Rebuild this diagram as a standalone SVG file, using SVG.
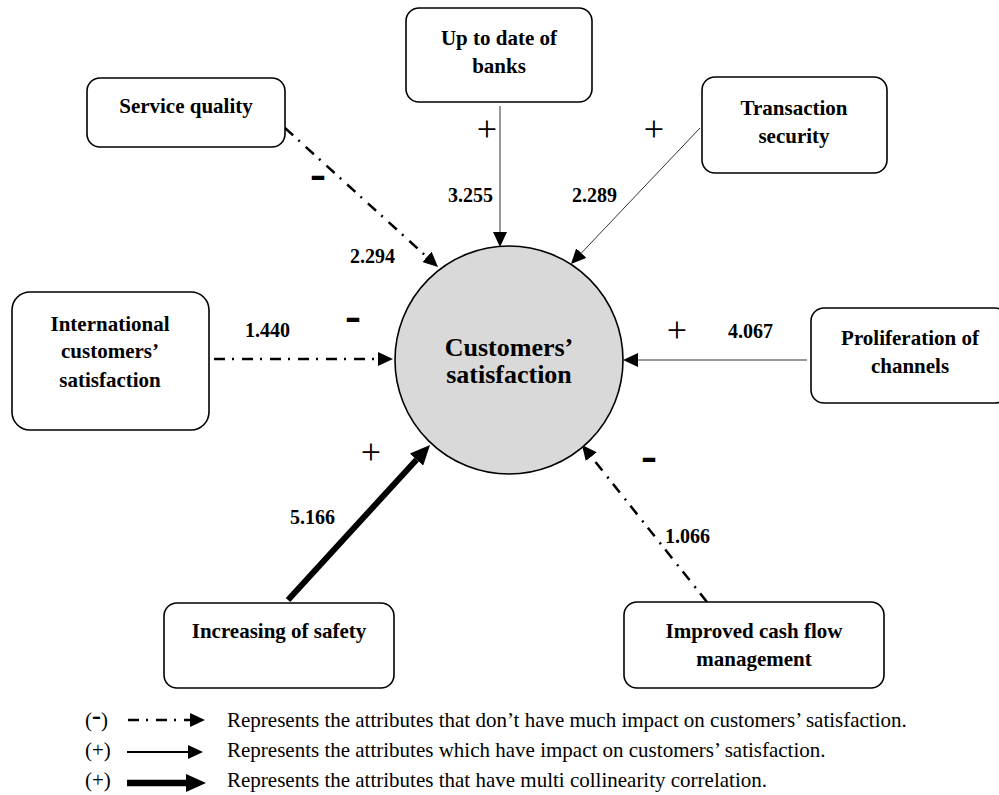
<svg xmlns="http://www.w3.org/2000/svg" width="999" height="795" viewBox="0 0 999 795">
<style>
  .box { fill: #ffffff; stroke: #000000; stroke-width: 1.6; }
  .lbl { font-family: "Liberation Serif", "Times New Roman", serif; font-weight: bold; font-size: 21px; fill: #000; text-anchor: middle; }
  .hub { font-family: "Liberation Serif", "Times New Roman", serif; font-weight: bold; font-size: 26px; fill: #000; text-anchor: middle; }
  .num { font-family: "Liberation Serif", "Times New Roman", serif; font-weight: bold; font-size: 20px; fill: #000; }
  .plus { font-family: "Liberation Serif", "Times New Roman", serif; font-size: 36px; fill: #000; text-anchor: middle; }
  .minus { font-family: "Liberation Serif", "Times New Roman", serif; font-weight: bold; font-size: 48px; fill: #000; text-anchor: middle; }
  .leg { font-family: "Liberation Serif", "Times New Roman", serif; font-size: 21px; fill: #000; }
  .dd { fill: none; stroke: #000; stroke-width: 2.5; stroke-dasharray: 11 7 2 8; }
  .thin { fill: none; stroke: #333; stroke-width: 1; }
  .thick { fill: none; stroke: #000; stroke-width: 6; }
</style>
<defs>
  <marker id="ah" markerUnits="userSpaceOnUse" markerWidth="16" markerHeight="14" refX="0" refY="7" orient="auto">
    <path d="M0,0 L15,7 L0,14 Z" fill="#000"/>
  </marker>
  <marker id="ahb" markerUnits="userSpaceOnUse" markerWidth="21" markerHeight="18" refX="0" refY="9" orient="auto">
    <path d="M0,0 L20,9 L0,18 Z" fill="#000"/>
  </marker>
</defs>

<g id="connectors">
  <path class="dd" d="M285,128 L426.9,256.9" marker-end="url(#ah)"/>
  <path class="thin" d="M500,106 L500,232" marker-end="url(#ah)"/>
  <path class="thin" d="M700,128 L581.3,253.1" marker-end="url(#ah)"/>
  <path class="dd" d="M214,359 L378,359" marker-end="url(#ah)"/>
  <path class="thin" d="M807,360 L638,360" marker-end="url(#ah)"/>
  <path class="thick" d="M288,600 L416.5,459.7" marker-end="url(#ahb)"/>
  <path class="dd" d="M707,602 L591.3,456.7" marker-end="url(#ah)"/>
</g>

<g id="hub">
  <circle cx="509" cy="360" r="114" fill="#d9d9d9" stroke="#000" stroke-width="1.6"/>
  <text class="hub" x="509" y="356">Customers’</text>
  <text class="hub" x="509" y="383">satisfaction</text>
</g>

<g id="service-quality">
  <rect class="box" x="87" y="78" width="198" height="69" rx="13"/>
  <text class="lbl" x="186" y="113">Service quality</text>
</g>
<g id="up-to-date">
  <rect class="box" x="406" y="8" width="186" height="94" rx="13"/>
  <text class="lbl" x="499" y="45">Up to date of</text>
  <text class="lbl" x="499" y="73">banks</text>
</g>
<g id="transaction-security">
  <rect class="box" x="702" y="77" width="185" height="96" rx="13"/>
  <text class="lbl" x="794" y="115">Transaction</text>
  <text class="lbl" x="794" y="143">security</text>
</g>
<g id="international">
  <rect class="box" x="12" y="292" width="197" height="138" rx="18"/>
  <text class="lbl" x="110" y="331">International</text>
  <text class="lbl" x="110" y="358">customers’</text>
  <text class="lbl" x="110" y="387">satisfaction</text>
</g>
<g id="proliferation">
  <rect class="box" x="811" y="308" width="197" height="95" rx="13"/>
  <text class="lbl" x="910" y="345">Proliferation of</text>
  <text class="lbl" x="910" y="373">channels</text>
</g>
<g id="increasing-safety">
  <rect class="box" x="164" y="603" width="230" height="85" rx="13"/>
  <text class="lbl" x="279" y="638">Increasing of safety</text>
</g>
<g id="improved-cash-flow">
  <rect class="box" x="624" y="602" width="260" height="86" rx="13"/>
  <text class="lbl" x="754" y="638">Improved cash flow</text>
  <text class="lbl" x="754" y="666">management</text>
</g>

<g id="edge-labels">
  <text class="num" x="350" y="263">2.294</text>
  <text class="num" x="448" y="202">3.255</text>
  <text class="num" x="572" y="202">2.289</text>
  <text class="num" x="245" y="337">1.440</text>
  <text class="num" x="728" y="338">4.067</text>
  <text class="num" x="290" y="524">5.166</text>
  <text class="num" x="665" y="543">1.066</text>
  <text class="plus" x="487" y="141">+</text>
  <text class="plus" x="654" y="141">+</text>
  <text class="plus" x="677" y="342">+</text>
  <text class="plus" x="371" y="464">+</text>
  <text class="minus" x="318" y="189">-</text>
  <text class="minus" x="353" y="331">-</text>
  <text class="minus" x="649" y="471">-</text>
</g>

<g id="legend">
  <text class="leg" x="85" y="727">(<tspan font-weight="bold" font-size="27px" dy="-3">-</tspan><tspan dy="3">)</tspan></text>
  <path class="dd" d="M128,720 L190,720" marker-end="url(#ah)"/>
  <text class="leg" x="227" y="727">Represents the attributes that don’t have much impact on customers’ satisfaction.</text>
  <text class="leg" x="85" y="757">(+)</text>
  <path fill="none" stroke="#000" stroke-width="1.8" d="M127,752 L188,752" marker-end="url(#ah)"/>
  <text class="leg" x="227" y="757">Represents the attributes which have impact on customers’ satisfaction.</text>
  <text class="leg" x="85" y="787">(+)</text>
  <path fill="none" stroke="#000" stroke-width="6.5" d="M127,783 L186,783" marker-end="url(#ahb)"/>
  <text class="leg" x="227" y="787">Represents the attributes that have multi collinearity correlation.</text>
</g>
</svg>
